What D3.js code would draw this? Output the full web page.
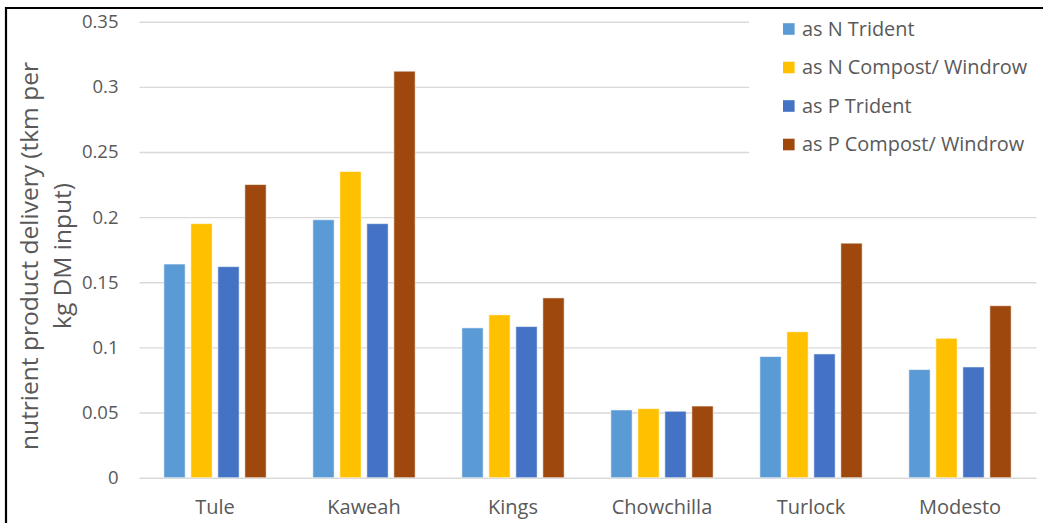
<!DOCTYPE html>
<html>
<head>
<meta charset="utf-8">
<script src="https://cdn.jsdelivr.net/npm/d3@7"></script>
<style>
  html, body { margin: 0; padding: 0; background: #fff; }
  svg { display: block; font-family: "Open Sans", sans-serif; }
</style>
</head>
<body>
<svg id="chart" width="1043" height="523"></svg>
<script>
// Regions along the x axis
const categories = ["Tule", "Kaweah", "Kings", "Chowchilla", "Turlock", "Modesto"];

// Series names (legend order)
const seriesNames = ["as N Trident", "as N Compost/ Windrow", "as P Trident", "as P Compost/ Windrow"];

// Values per series, one per region (tkm per kg DM input)
const nTrident  = [0.164, 0.198, 0.115, 0.052, 0.093, 0.083];
const nCompost  = [0.195, 0.235, 0.125, 0.053, 0.112, 0.107];
const pTrident  = [0.162, 0.195, 0.116, 0.051, 0.095, 0.085];
const pCompost  = [0.225, 0.312, 0.138, 0.055, 0.180, 0.132];

// Y tick values and their labels
const yTicks = [0, 0.05, 0.1, 0.15, 0.2, 0.25, 0.3, 0.35];
const yTickLabels = ["0", "0.05", "0.1", "0.15", "0.2", "0.25", "0.3", "0.35"];

const colors = ["#5B9BD5", "#FFC000", "#4472C4", "#9E480E"];
const seriesValues = [nTrident, nCompost, pTrident, pCompost];

const svg = d3.select("#chart");
const textColor = "#595959";
const font = "'Open Sans', sans-serif";

// Plot area
const plot = { left: 140.5, right: 1034.5, top: 21.7, bottom: 477.7 };

const x0 = d3.scaleBand().domain(categories).range([plot.left, plot.right]).padding(0);
const x1 = d3.scaleBand().domain(seriesNames).range([0, x0.bandwidth()])
  .paddingInner(0.211).paddingOuter(0.865);
const y = d3.scaleLinear().domain([0, 0.35]).range([plot.bottom, plot.top]);

// Outer frame (left and top edges)
svg.append("path")
  .attr("d", `M6,523 L6,8 L1043,8`)
  .attr("fill", "none").attr("stroke", "#000").attr("stroke-width", 2.2);

// Gridlines
const yAxis = d3.axisLeft(y).tickValues(yTicks)
  .tickFormat((d, i) => yTickLabels[i])
  .tickSize(-(plot.right - plot.left + 3)).tickPadding(21);
const gy = svg.append("g").attr("transform", `translate(${plot.left - 1},0)`).call(yAxis);
gy.select(".domain").remove();
gy.selectAll(".tick line").attr("stroke", "#d9d9d9").attr("stroke-width", 1.4);
gy.selectAll(".tick text").attr("fill", textColor).attr("font-size", 18.5)
  .attr("font-family", font);

// Bars
const groups = svg.append("g").selectAll("g")
  .data(categories).join("g")
  .attr("transform", d => `translate(${x0(d)},0)`);

groups.selectAll("rect")
  .data((c, ci) => seriesNames.map((s, si) => ({ s, si, v: seriesValues[si][ci] })))
  .join("rect")
  .attr("x", d => x1(d.s))
  .attr("width", x1.bandwidth())
  .attr("y", d => y(d.v))
  .attr("height", d => y(0) - y(d.v))
  .attr("fill", d => colors[d.si])
  .attr("stroke", "#ffffff").attr("stroke-opacity", 0.55).attr("stroke-width", 1);

// X axis labels
const xAxis = d3.axisBottom(x0).tickSize(0).tickPadding(22);
const gx = svg.append("g").attr("transform", `translate(0,${plot.bottom})`).call(xAxis);
gx.select(".domain").remove();
gx.selectAll(".tick text").attr("fill", textColor).attr("font-size", 20)
  .attr("font-family", font);

// Y axis title (two lines)
const title = svg.append("text")
  .attr("transform", "translate(0,256) rotate(-90)")
  .attr("text-anchor", "middle").attr("fill", textColor).attr("font-size", 24.5);
title.append("tspan").attr("x", 0).attr("y", 38).text("nutrient product delivery (tkm per");
title.append("tspan").attr("x", 0).attr("y", 71).text("kg DM input)");

// Legend
const legend = svg.append("g");
legend.append("rect").attr("x", 749).attr("y", 10).attr("width", 290).attr("height", 155).attr("fill", "#fff");
const items = legend.selectAll("g.item").data(seriesNames).join("g")
  .attr("class", "item")
  .attr("transform", (d, i) => `translate(783,${29 + i * 38.5})`);
items.append("rect").attr("x", 0).attr("y", -5.8).attr("width", 11.6).attr("height", 11.6)
  .attr("fill", (d, i) => colors[i]);
items.append("text").attr("x", 19).attr("y", 0).attr("dy", "0.35em")
  .attr("fill", textColor).attr("font-size", 19.9).text(d => d);
</script>
</body>
</html>
